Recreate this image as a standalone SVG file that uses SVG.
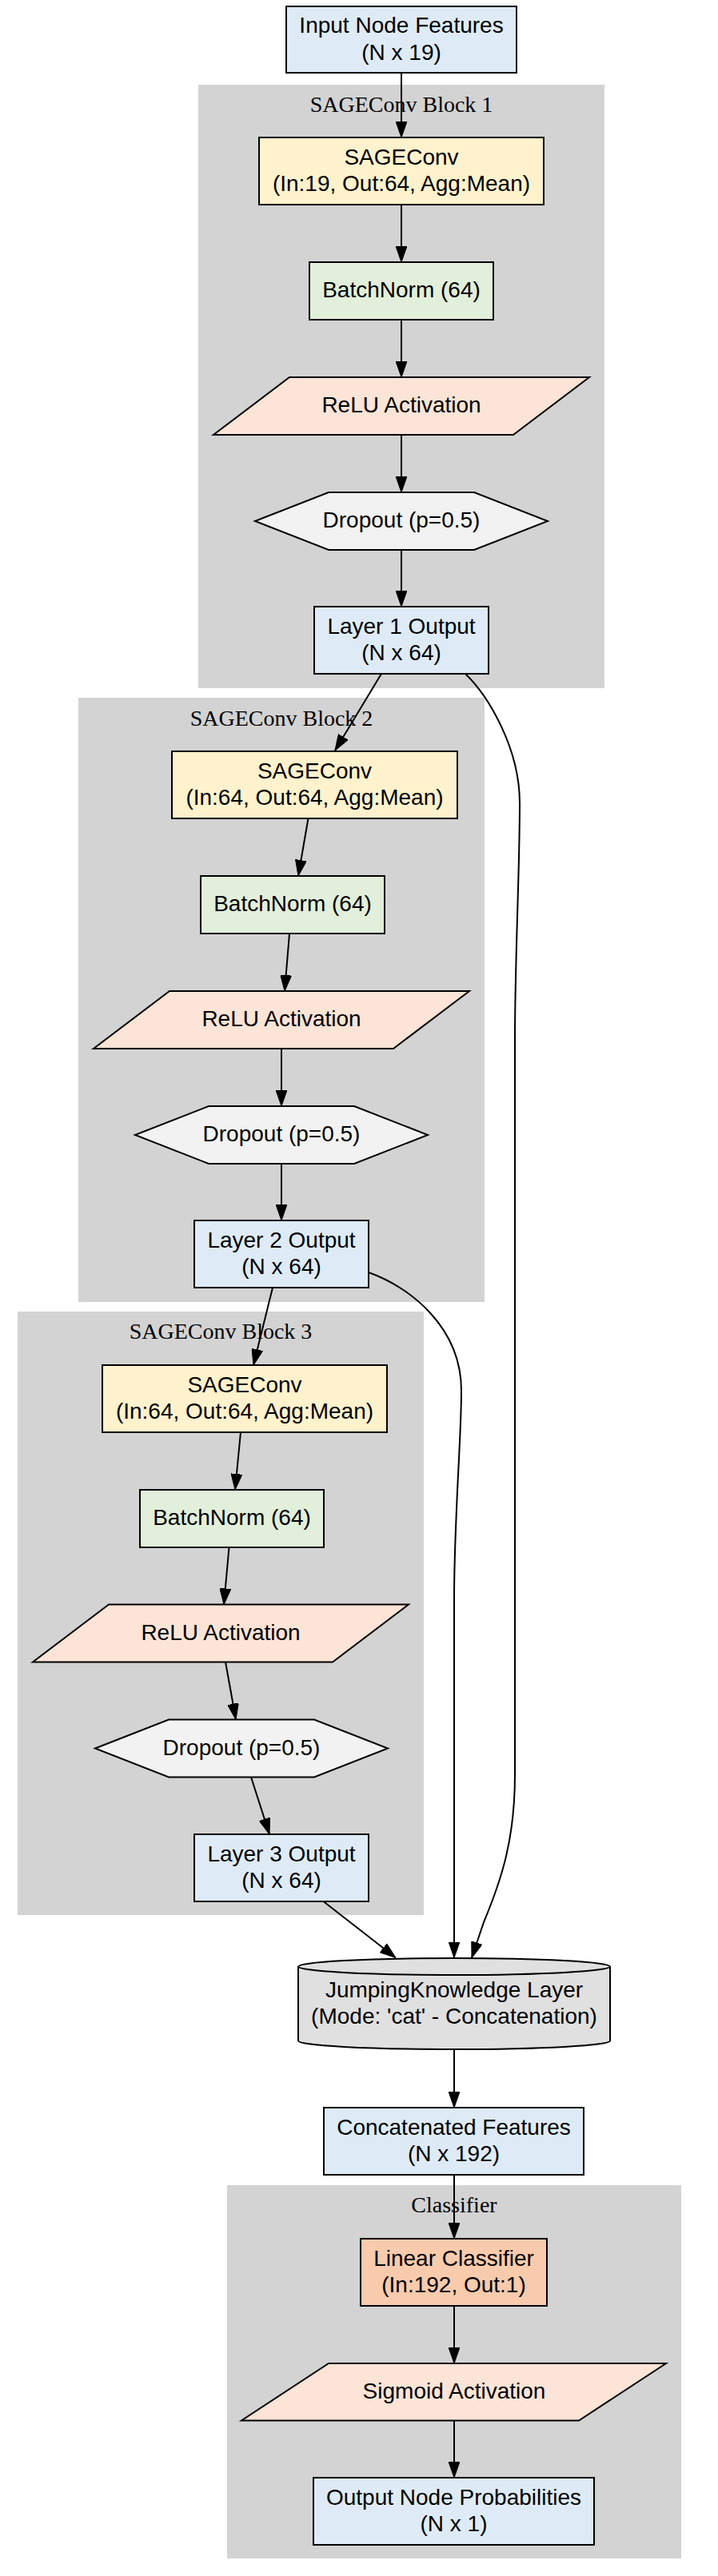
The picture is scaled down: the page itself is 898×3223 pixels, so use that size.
<svg xmlns="http://www.w3.org/2000/svg" width="898" height="3223" viewBox="0 0 898 3223">
<defs>
<style>
.cl{fill:#d3d3d3;stroke:#d3d3d3;stroke-width:2}
.ct{font-family:"Liberation Serif","Times New Roman",serif;font-size:28px;fill:#000;text-anchor:middle}
.nd{stroke:#000;stroke-width:2}
.t{font-family:"Liberation Sans",Arial,sans-serif;font-size:28px;fill:#000;text-anchor:middle}
.blue{fill:#deebf7}
.sage{fill:#fff2cc}
.bn{fill:#e2efda}
.act{fill:#fce4d6}
.drop{fill:#f2f2f2}
.jk{fill:#e0e0e0}
.lin{fill:#f8cbad}
.e{fill:none;stroke:#000;stroke-width:2;marker-end:url(#ah)}
</style>
<marker id="ah" markerUnits="userSpaceOnUse" markerWidth="20" markerHeight="14" refX="20" refY="7" orient="auto" viewBox="0 0 20 14">
<path d="M0,0 L20,7 L0,14 z" fill="#000" stroke="#000" stroke-width="1"/>
</marker>
</defs>
<rect width="898" height="3223" fill="#fff"/>

<g id="cluster1">
<rect class="cl" x="249" y="107" width="506" height="753"/>
<text class="ct" x="502" y="140">SAGEConv Block 1</text>
</g>
<g id="cluster2">
<rect class="cl" x="99" y="874" width="506" height="754"/>
<text class="ct" x="352" y="908">SAGEConv Block 2</text>
</g>
<g id="cluster3">
<rect class="cl" x="23" y="1642" width="506" height="753"/>
<text class="ct" x="276" y="1675">SAGEConv Block 3</text>
</g>
<g id="cluster_classifier">
<rect class="cl" x="285" y="2735" width="566" height="465"/>
<text class="ct" x="568" y="2768">Classifier</text>
</g>

<g id="connectors">
<path class="e" d="M502,91 L502,172"/>
<path class="e" d="M502,256 L502,328"/>
<path class="e" d="M502,400 L502,472"/>
<path class="e" d="M502,544 L502,616"/>
<path class="e" d="M502,688 L502,759"/>
<path class="e" d="M477,843 L419,939"/>
<path class="e" d="M385.5,1024 L373,1096"/>
<path class="e" d="M362,1168 L356,1240"/>
<path class="e" d="M352,1312 L352,1384"/>
<path class="e" d="M352,1456 L352,1527"/>
<path class="e" d="M341,1611 L317,1708"/>
<path class="e" d="M301,1792 L294,1864"/>
<path class="e" d="M286.5,1936 L280,2007.5"/>
<path class="e" d="M282,2079.5 L295,2151.5"/>
<path class="e" d="M314,2223.5 L337,2295"/>
<path class="e" d="M404.5,2379 L495,2449.5"/>
<path class="e" d="M461,1592 C512,1610 577,1660 577,1740 C577,1800 568,1900 568,2000 L568,2449.5"/>
<path class="e" d="M582,843 C610,870 650,935 650,1005 C650,1090 644,1200 644,1300 L644,2220 C644,2300 628,2350 605,2405 L590,2449.5"/>
<path class="e" d="M568,2564 L568,2637"/>
<path class="e" d="M568,2721 L568,2801"/>
<path class="e" d="M568,2885 L568,2957"/>
<path class="e" d="M568,3028.5 L568,3100"/>
</g>

<g id="input">
<rect class="nd blue" x="358" y="8" width="288" height="83"/>
<text class="t" x="502" y="41">Input Node Features</text>
<text class="t" x="502" y="74.5">(N x 19)</text>
</g>

<g id="sage1">
<rect class="nd sage" x="324" y="172" width="356" height="84"/>
<text class="t" x="502" y="205.5">SAGEConv</text>
<text class="t" x="502" y="239">(In:19, Out:64, Agg:Mean)</text>
</g>
<g id="bn1">
<rect class="nd bn" x="387" y="328" width="230" height="72"/>
<text class="t" x="502" y="372">BatchNorm (64)</text>
</g>
<g id="relu1">
<polygon class="nd act" points="362,472 737,472 642,544 267,544"/>
<text class="t" x="502" y="516">ReLU Activation</text>
</g>
<g id="dropout1">
<polygon class="nd drop" points="319,652 411,616 593,616 685,652 593,688 411,688"/>
<text class="t" x="502" y="660">Dropout (p=0.5)</text>
</g>
<g id="layer1">
<rect class="nd blue" x="393" y="759" width="218" height="84"/>
<text class="t" x="502" y="792.5">Layer 1 Output</text>
<text class="t" x="502" y="826">(N x 64)</text>
</g>

<g id="sage2">
<rect class="nd sage" x="215" y="940" width="357" height="84"/>
<text class="t" x="393.5" y="973.5">SAGEConv</text>
<text class="t" x="393.5" y="1007">(In:64, Out:64, Agg:Mean)</text>
</g>
<g id="bn2">
<rect class="nd bn" x="251" y="1096" width="230" height="72"/>
<text class="t" x="366" y="1140">BatchNorm (64)</text>
</g>
<g id="relu2">
<polygon class="nd act" points="212,1240 587,1240 492,1312 117,1312"/>
<text class="t" x="352" y="1284">ReLU Activation</text>
</g>
<g id="dropout2">
<polygon class="nd drop" points="169,1420 261,1384 443,1384 535,1420 443,1456 261,1456"/>
<text class="t" x="352" y="1428">Dropout (p=0.5)</text>
</g>
<g id="layer2">
<rect class="nd blue" x="243" y="1527" width="218" height="84"/>
<text class="t" x="352" y="1560.5">Layer 2 Output</text>
<text class="t" x="352" y="1594">(N x 64)</text>
</g>

<g id="sage3">
<rect class="nd sage" x="128" y="1708" width="356" height="84"/>
<text class="t" x="306" y="1741.5">SAGEConv</text>
<text class="t" x="306" y="1775">(In:64, Out:64, Agg:Mean)</text>
</g>
<g id="bn3">
<rect class="nd bn" x="175" y="1864" width="230" height="72"/>
<text class="t" x="290" y="1908">BatchNorm (64)</text>
</g>
<g id="relu3">
<polygon class="nd act" points="136,2007.5 511,2007.5 416,2079.5 41,2079.5"/>
<text class="t" x="276" y="2051.5">ReLU Activation</text>
</g>
<g id="dropout3">
<polygon class="nd drop" points="119,2187.5 211,2151.5 393,2151.5 485,2187.5 393,2223.5 211,2223.5"/>
<text class="t" x="302" y="2195.5">Dropout (p=0.5)</text>
</g>
<g id="layer3">
<rect class="nd blue" x="243" y="2295" width="218" height="84"/>
<text class="t" x="352" y="2328.5">Layer 3 Output</text>
<text class="t" x="352" y="2362">(N x 64)</text>
</g>

<g id="jk">
<path class="nd jk" d="M373,2460.5 A195,10.5 0 0 1 763,2460.5 L763,2553.5 A195,10.5 0 0 1 373,2553.5 Z"/>
<path class="nd" fill="none" d="M373,2460.5 A195,10.5 0 0 0 763,2460.5"/>
<text class="t" x="568" y="2498.5">JumpingKnowledge Layer</text>
<text class="t" x="568" y="2532">(Mode: 'cat' - Concatenation)</text>
</g>

<g id="concat">
<rect class="nd blue" x="405" y="2637" width="325" height="84"/>
<text class="t" x="567.5" y="2670.5">Concatenated Features</text>
<text class="t" x="567.5" y="2704">(N x 192)</text>
</g>

<g id="linear">
<rect class="nd lin" x="451" y="2801" width="233" height="84"/>
<text class="t" x="567.5" y="2834.5">Linear Classifier</text>
<text class="t" x="567.5" y="2868">(In:192, Out:1)</text>
</g>
<g id="sigmoid">
<polygon class="nd act" points="411,2957 833,2957 724,3028.5 302,3028.5"/>
<text class="t" x="568" y="3001">Sigmoid Activation</text>
</g>
<g id="output">
<rect class="nd blue" x="392" y="3100" width="351" height="84"/>
<text class="t" x="567.5" y="3133.5">Output Node Probabilities</text>
<text class="t" x="567.5" y="3167">(N x 1)</text>
</g>
</svg>
